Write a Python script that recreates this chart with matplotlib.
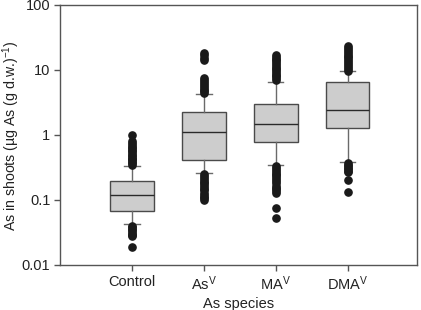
import matplotlib
matplotlib.use("Agg")
import matplotlib.pyplot as plt
from matplotlib.ticker import FixedLocator, FixedFormatter, NullLocator

plt.rcParams['font.family'] = ['Liberation Sans', 'DejaVu Sans']
plt.rcParams['mathtext.fontset'] = 'custom'
plt.rcParams['mathtext.rm'] = 'Liberation Sans'
plt.rcParams['mathtext.it'] = 'Liberation Sans:italic'

categories = ['Control', r'As$^{\mathrm{V}}$', r'MA$^{\mathrm{V}}$', r'DMA$^{\mathrm{V}}$']
q1 = [0.068, 0.41, 0.77, 1.27]
med = [0.121, 1.10, 1.46, 2.40]
q3 = [0.196, 2.28, 2.97, 6.46]
whislo = [0.042, 0.26, 0.35, 0.39]
whishi = [0.33, 4.2, 6.6, 9.5]
fliers_control = [0.35, 0.37, 0.39, 0.41, 0.43, 0.45, 0.48, 0.50, 0.53, 0.56, 0.59, 0.62,
                  0.66, 0.70, 0.74, 0.80, 1.0,
                  0.040, 0.038, 0.036, 0.034, 0.032, 0.030, 0.029, 0.028, 0.0186]
fliers_as = [4.4, 4.7, 5.0, 5.3, 5.7, 6.1, 6.6, 7.1, 7.6, 14.0, 15.5, 17.0, 18.5,
             0.25, 0.235, 0.22, 0.205, 0.19, 0.18, 0.17, 0.16, 0.15, 0.14, 0.13,
             0.12, 0.113, 0.106, 0.10]
fliers_ma = [7.0, 7.5, 8.0, 8.5, 9.0, 9.6, 10.2, 10.9, 11.6, 12.4, 13.2, 14.1, 15.0,
             16.0, 17.0,
             0.33, 0.31, 0.29, 0.27, 0.255, 0.24, 0.225, 0.21, 0.195, 0.18, 0.167,
             0.155, 0.145, 0.136, 0.127, 0.0745, 0.052]
fliers_dma = [9.8, 10.5, 11.2, 12.0, 12.8, 13.7, 14.6, 15.6, 16.7, 17.8, 19.0, 20.3,
              21.7, 23.2,
              0.37, 0.35, 0.33, 0.31, 0.295, 0.28, 0.265, 0.203, 0.134]
fliers = [fliers_control, fliers_as, fliers_ma, fliers_dma]
yticks = [0.01, 0.1, 1, 10, 100]
yticklabels = ['0.01', '0.1', '1', '10', '100']

stats = []
for i in range(len(categories)):
    stats.append(dict(q1=q1[i], med=med[i], q3=q3[i], whislo=whislo[i],
                      whishi=whishi[i], fliers=fliers[i], label=categories[i]))

fig = plt.figure(figsize=(4.21, 3.10), dpi=100)
ax = fig.add_axes([0.1425, 0.1452, 0.848, 0.8387])

edge = '#4a4a4a'
ax.bxp(stats, positions=[1, 2, 3, 4], widths=0.6, capwidths=0.21,
       patch_artist=True,
       boxprops=dict(facecolor='#cdcdcd', edgecolor=edge, linewidth=1.0),
       medianprops=dict(color='#2a2a2a', linewidth=1.0),
       whiskerprops=dict(color='#6a6a6a', linewidth=1.0),
       capprops=dict(color='#6a6a6a', linewidth=1.0),
       flierprops=dict(marker='o', markerfacecolor='#1a1a1a', markeredgecolor='#1a1a1a',
                       markersize=5.2, linestyle='none'))

ax.set_yscale('log')
ax.set_ylim(0.01, 100)
ax.set_xlim(0.0, 4.96)
ax.yaxis.set_major_locator(FixedLocator(yticks))
ax.yaxis.set_major_formatter(FixedFormatter(yticklabels))
ax.yaxis.set_minor_locator(NullLocator())
ax.set_xticks([1, 2, 3, 4])
ax.set_xticklabels(categories)

for s in ax.spines.values():
    s.set_color('#555555')
    s.set_linewidth(1.0)
ax.tick_params(axis='both', direction='out', length=4, width=1.0, color='#555555',
               labelsize=10.5, labelcolor='#222222', pad=3)

ax.set_xlabel('As species', fontsize=10.5, color='#222222', labelpad=3)
ax.set_ylabel('As in shoots (\u00b5g As (g d.w.)$^{-1}$)', fontsize=10.2,
              color='#222222')
ax.yaxis.set_label_coords(-0.106, 0.498)

fig.savefig('out.png', dpi=100)
